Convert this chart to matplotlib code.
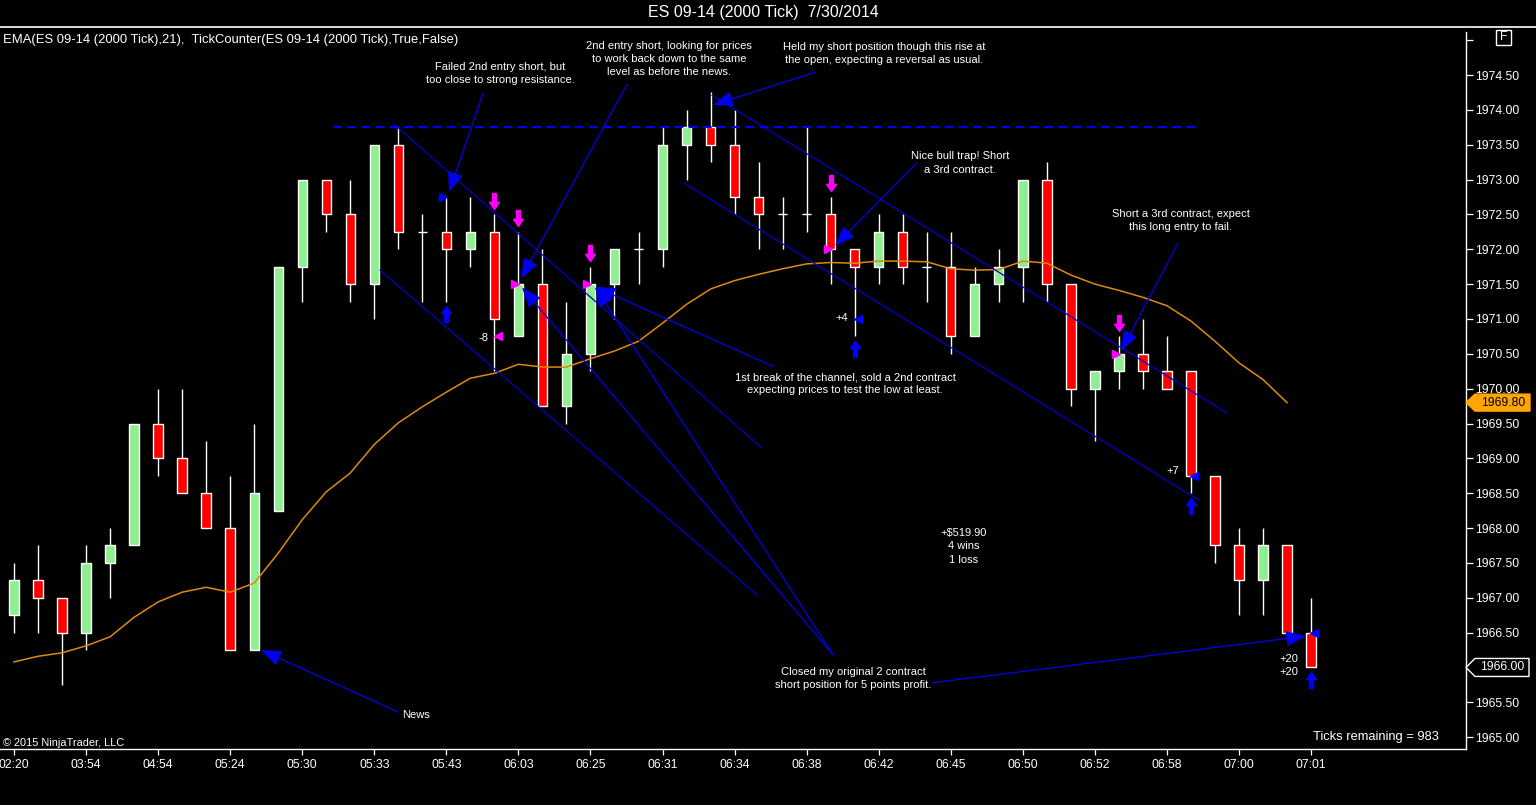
import matplotlib
matplotlib.use('Agg')
import matplotlib.pyplot as plt
from matplotlib.path import Path
from matplotlib.lines import Line2D
from matplotlib.patches import Polygon, Rectangle
from matplotlib.transforms import IdentityTransform
import numpy as np

plt.rcParams['font.family'] = ['Liberation Sans', 'DejaVu Sans']

# ---------------- data ----------------
title = "ES 09-14 (2000 Tick)  7/30/2014"
legend_text = "EMA(ES 09-14 (2000 Tick),21),  TickCounter(ES 09-14 (2000 Tick),True,False)"

opens = [1966.75, 1967.25, 1967.0, 1966.5, 1967.5, 1967.75, 1969.5, 1969.0, 1968.5, 1968.0,
         1966.25, 1968.25, 1971.75, 1973.0, 1972.5, 1971.5, 1973.5, 1972.25, 1972.25, 1972.0,
         1972.25, 1970.75, 1971.5, 1969.75, 1970.5, 1971.5, 1972.0, 1972.0, 1973.5, 1973.75,
         1973.5, 1972.75, 1972.5, 1972.5, 1972.5, 1972.0, 1971.75, 1972.25, 1971.75, 1971.75,
         1970.75, 1971.5, 1971.75, 1973.0, 1971.5, 1970.0, 1970.25, 1970.5, 1970.25, 1970.25,
         1968.75, 1967.75, 1967.25, 1967.75, 1966.5]
highs = [1967.5, 1967.75, 1967.0, 1967.75, 1968.0, 1969.5, 1970.0, 1970.0, 1969.25, 1968.75,
         1969.5, 1971.75, 1973.0, 1973.0, 1973.0, 1973.5, 1973.75, 1972.5, 1972.75, 1972.75,
         1972.5, 1972.25, 1972.0, 1971.25, 1971.75, 1972.0, 1972.25, 1973.75, 1974.0, 1974.25,
         1974.0, 1973.25, 1972.75, 1973.75, 1972.75, 1972.0, 1972.5, 1972.5, 1972.25, 1972.25,
         1971.75, 1972.0, 1973.0, 1973.25, 1971.5, 1970.25, 1970.75, 1971.0, 1970.75, 1970.25,
         1968.75, 1968.0, 1968.0, 1967.75, 1967.0]
lows = [1966.5, 1966.5, 1965.75, 1966.25, 1967.0, 1967.75, 1968.75, 1968.5, 1968.0, 1966.25,
        1966.25, 1968.25, 1971.25, 1972.25, 1971.25, 1971.0, 1972.0, 1971.25, 1971.25, 1971.75,
        1970.25, 1970.75, 1969.75, 1969.5, 1970.25, 1971.0, 1971.5, 1971.75, 1973.0, 1973.25,
        1972.5, 1972.0, 1972.0, 1972.25, 1971.5, 1970.75, 1971.5, 1971.5, 1971.25, 1970.5,
        1970.75, 1971.25, 1971.25, 1971.25, 1969.75, 1969.25, 1970.0, 1970.0, 1970.0, 1968.5,
        1967.5, 1966.75, 1966.75, 1966.5, 1966.0]
closes = [1967.25, 1967.0, 1966.5, 1967.5, 1967.75, 1969.5, 1969.0, 1968.5, 1968.0, 1966.25,
          1968.5, 1971.75, 1973.0, 1972.5, 1971.5, 1973.5, 1972.25, 1972.25, 1972.0, 1972.25,
          1971.0, 1971.5, 1969.75, 1970.5, 1971.5, 1972.0, 1972.0, 1973.5, 1973.75, 1973.5,
          1972.75, 1972.5, 1972.5, 1972.5, 1972.0, 1971.75, 1972.25, 1971.75, 1971.75, 1970.75,
          1971.5, 1971.75, 1973.0, 1971.5, 1970.0, 1970.25, 1970.5, 1970.25, 1970.0, 1968.75,
          1967.75, 1967.25, 1967.75, 1966.5, 1966.0]
ema21 = [1966.08, 1966.16, 1966.21, 1966.31, 1966.44, 1966.72, 1966.94, 1967.08, 1967.15, 1967.08,
         1967.21, 1967.64, 1968.12, 1968.52, 1968.79, 1969.20, 1969.51, 1969.74, 1969.95, 1970.15,
         1970.22, 1970.35, 1970.31, 1970.31, 1970.43, 1970.54, 1970.68, 1970.94, 1971.21, 1971.43,
         1971.55, 1971.64, 1971.72, 1971.79, 1971.81, 1971.80, 1971.83, 1971.83, 1971.82, 1971.72,
         1971.70, 1971.71, 1971.83, 1971.80, 1971.63, 1971.50, 1971.41, 1971.31, 1971.19, 1970.97,
         1970.68, 1970.37, 1970.13, 1969.80]

time_tick_bars = [0, 3, 6, 9, 12, 15, 18, 21, 24, 27, 30, 33, 36, 39, 42, 45, 48, 51, 54]
time_tick_labels = ['02:20', '03:54', '04:54', '05:24', '05:30', '05:33', '05:43', '06:03', '06:25',
                    '06:31', '06:34', '06:38', '06:42', '06:45', '06:50', '06:52', '06:58', '07:00', '07:01']

price_ticks = [1965.0 + 0.5 * k for k in range(21)]

# trade markers
sell_arrow_bars = [20, 21, 24, 34, 46]
buy_arrow_bars = [18, 35, 49, 54]
exec_bars = [18, 20, 21, 24, 34, 35, 46, 49, 54]
exec_prices = [1972.75, 1970.75, 1971.5, 1971.5, 1972.0, 1971.0, 1970.5, 1968.75, 1966.5]
exec_kinds = ['B>', 'S<', 'S>', 'S>', 'S>', 'B<', 'S>', 'B<', 'B<']
pnl_labels = ['-8', '+4', '+7', '+20', '+20']
pnl_pos = [(19.53, 1970.73), (34.47, 1971.01), (48.25, 1968.82), (53.08, 1966.12), (53.08, 1965.93)]

# drawing objects (bar index, price)
channel_lines = [((15.8, 1973.80), (31.1, 1969.16)),
                 ((15.24, 1971.70), (30.93, 1967.04)),
                 ((29.06, 1974.21), (50.50, 1969.65)),
                 ((27.89, 1972.95), (49.33, 1968.40))]
resistance_line = ((13.28, 1973.75), (49.25, 1973.75))
arrow_lines = [((19.53, 1974.24), (18.11, 1972.82)),
               ((25.52, 1974.37), (21.11, 1971.58)),
               ((33.35, 1974.54), (29.10, 1974.07)),
               ((37.59, 1973.24), (34.18, 1972.05)),
               ((48.46, 1972.09), (46.09, 1970.54)),
               ((31.60, 1970.32), (24.19, 1971.46)),
               ((34.10, 1966.18), (21.15, 1971.45)),
               ((34.10, 1966.18), (24.19, 1971.46)),
               ((38.22, 1965.78), (53.79, 1966.45)),
               ((15.99, 1965.36), (10.28, 1966.25))]
notes = [("Failed 2nd entry short, but\ntoo close to strong resistance.", 20.23, 1974.52),
         ("2nd entry short, looking for prices\nto work back down to the same\nlevel as before the news.", 27.27, 1974.73),
         ("Held my short position though this rise at\nthe open, expecting a reversal as usual.", 36.22, 1974.81),
         ("Nice bull trap! Short\na 3rd contract.", 39.38, 1973.24),
         ("Short a 3rd contract, expect\nthis long entry to fail.", 48.58, 1972.41),
         ("1st break of the channel, sold a 2nd contract\nexpecting prices to test the low at least.", 34.60, 1970.07),
         ("+$519.90\n4 wins\n1 loss", 39.55, 1967.74),
         ("Closed my original 2 contract\nshort position for 5 points profit.", 34.93, 1965.84),
         ("News", 16.74, 1965.32)]

# ---------------- figure ----------------
W, H = 1536, 805
fig = plt.figure(figsize=(W / 100, H / 100), dpi=100, facecolor='black')
ax = fig.add_axes([0, 1 - 749 / H, 1466 / W, (749 - 32) / H])
ax.set_facecolor('black')
ax.set_xlim(-0.583, 60.45)
ax.set_ylim(1964.830, 1975.117)

x = np.arange(len(closes))
o = np.array(opens); c = np.array(closes); h = np.array(highs); l = np.array(lows)
body_colors = ['#90EE90' if cc > oo else ('#FF0000' if cc < oo else 'white') for oo, cc in zip(o, c)]
ax.vlines(x, l, h, color='white', lw=1.0, zorder=2)
ax.bar(x, c - o, bottom=o, width=0.39, color=body_colors, edgecolor='white', linewidth=1.0, zorder=3)

ax.plot(np.arange(len(ema21)), ema21, color='#DC8A0E', lw=1.1, zorder=4)

# drawings
for (x0, y0), (x1, y1) in channel_lines:
    ax.plot([x0, x1], [y0, y1], color='#0000CC', lw=0.9, zorder=5)
(rx0, ry0), (rx1, ry1) = resistance_line
ax.plot([rx0, rx1], [ry0, ry1], color='#0000EE', lw=1.6, ls=(0, (4, 2.4)), zorder=5)
for start, tip in arrow_lines:
    ax.annotate('', xy=tip, xytext=start,
                arrowprops=dict(arrowstyle='-|>,head_length=1.25,head_width=0.48',
                                color='#0000EE', lw=0.9, shrinkA=0, shrinkB=0),
                zorder=6)
for txt, tx, ty in notes:
    ax.text(tx, ty, txt, color='white', fontsize=8.0, ha='center', va='center',
            linespacing=1.42, zorder=7)

# trade arrows (fat arrows)
down_arrow = Path([(-0.24, 1), (0.24, 1), (0.24, -0.1), (0.62, -0.1), (0, -1), (-0.62, -0.1),
                   (-0.24, -0.1), (-0.24, 1)], [1, 2, 2, 2, 2, 2, 2, 79])
up_arrow = Path([(-0.24, -1), (0.24, -1), (0.24, 0.1), (0.62, 0.1), (0, 1), (-0.62, 0.1),
                 (-0.24, 0.1), (-0.24, -1)], [1, 2, 2, 2, 2, 2, 2, 79])
px_per_pt = 69.7
for b in sell_arrow_bars:
    ax.plot(b, highs[b] + 13.5 / px_per_pt, marker=down_arrow, ms=11.5, color='#FF00FF', mec='#FF00FF', zorder=8)
for b in buy_arrow_bars:
    ax.plot(b, lows[b] - 12.5 / px_per_pt, marker=up_arrow, ms=11.5, color='#0000FF', mec='#0000FF', zorder=8)
for b, p, k in zip(exec_bars, exec_prices, exec_kinds):
    col = '#0000FF' if k[0] == 'B' else '#FF00FF'
    if k[1] == '>':
        ax.plot(b - 0.13, p, marker='>', ms=5.5, color=col, mec=col, zorder=8)
    else:
        ax.plot(b + 0.13, p, marker='<', ms=5.5, color=col, mec=col, zorder=8)
for txt, (tx, ty) in zip(pnl_labels, pnl_pos):
    ax.text(tx, ty, txt, color='white', fontsize=8.0, ha='center', va='center', zorder=8)

# axes styling
ema_last = ema21[-1]
last_close = closes[-1]
ax.yaxis.tick_right()
ax.set_yticks(price_ticks)
ax.set_yticklabels([f'{v:.2f}' if (v < 1974.9 and abs(v - last_close) > 0.01) else '' for v in price_ticks])
ax.tick_params(axis='y', colors='white', length=5, width=0.9, pad=1.5, labelsize=8.8)
ax.set_xticks(time_tick_bars)
ax.set_xticklabels(time_tick_labels)
ax.tick_params(axis='x', colors='white', length=4.5, width=0.9, pad=2.5, labelsize=8.8)
for s in ['top', 'left']:
    ax.spines[s].set_visible(False)
for s in ['right', 'bottom']:
    ax.spines[s].set_color('white')
    ax.spines[s].set_linewidth(1.0)

# fixed texts
fig.text(763 / W, 1 - 13 / H, title, color='white', fontsize=11.5, ha='center', va='center')
fig.add_artist(Line2D([0, 1], [1 - 27 / H, 1 - 27 / H], transform=fig.transFigure, color='white', lw=1.2))
ax.text(3 / 1466, (749 - 40) / 717, legend_text, transform=ax.transAxes, color='white',
        fontsize=9.4, ha='left', va='center')
ax.text(3 / 1466, (749 - 743) / 717, "\u00a9 2015 NinjaTrader, LLC", transform=ax.transAxes,
        color='white', fontsize=7.9, ha='left', va='center')
ax.text(1439 / 1466, (749 - 737) / 717, "Ticks remaining = 983", transform=ax.transAxes,
        color='white', fontsize=9.3, ha='right', va='center')

# price tags on the right axis
fig.canvas.draw()
def py_of(price):
    return ax.transData.transform((0, price))[1]

yp = py_of(ema_last)
fig.add_artist(Polygon([(1466, yp), (1475, yp + 8.5), (1530, yp + 8.5), (1530, yp - 8.5), (1475, yp - 8.5)],
                       closed=True, facecolor='#FFA500', edgecolor='#FFA500', transform=IdentityTransform()))
fig.text(1503 / W, yp / H, f'{ema_last:.2f}', color='black', fontsize=8.8, ha='center', va='center')

yp = py_of(last_close)
fig.add_artist(Polygon([(1466, yp), (1475, yp + 9), (1529, yp + 9), (1529, yp - 9), (1475, yp - 9)],
                       closed=True, facecolor='black', edgecolor='white', lw=1.0, transform=IdentityTransform()))
fig.text(1502 / W, yp / H, f'{last_close:.2f}', color='white', fontsize=8.8, ha='center', va='center')

# "F" box
fig.add_artist(Rectangle((1496, H - 45), 15, 15, facecolor='none', edgecolor='white', lw=1.0,
                         transform=IdentityTransform()))
fig.text(1503.5 / W, 1 - 37.5 / H, 'F', color='white', fontsize=8.8, ha='center', va='center')

fig.savefig('out.png', dpi=100, facecolor='black')
